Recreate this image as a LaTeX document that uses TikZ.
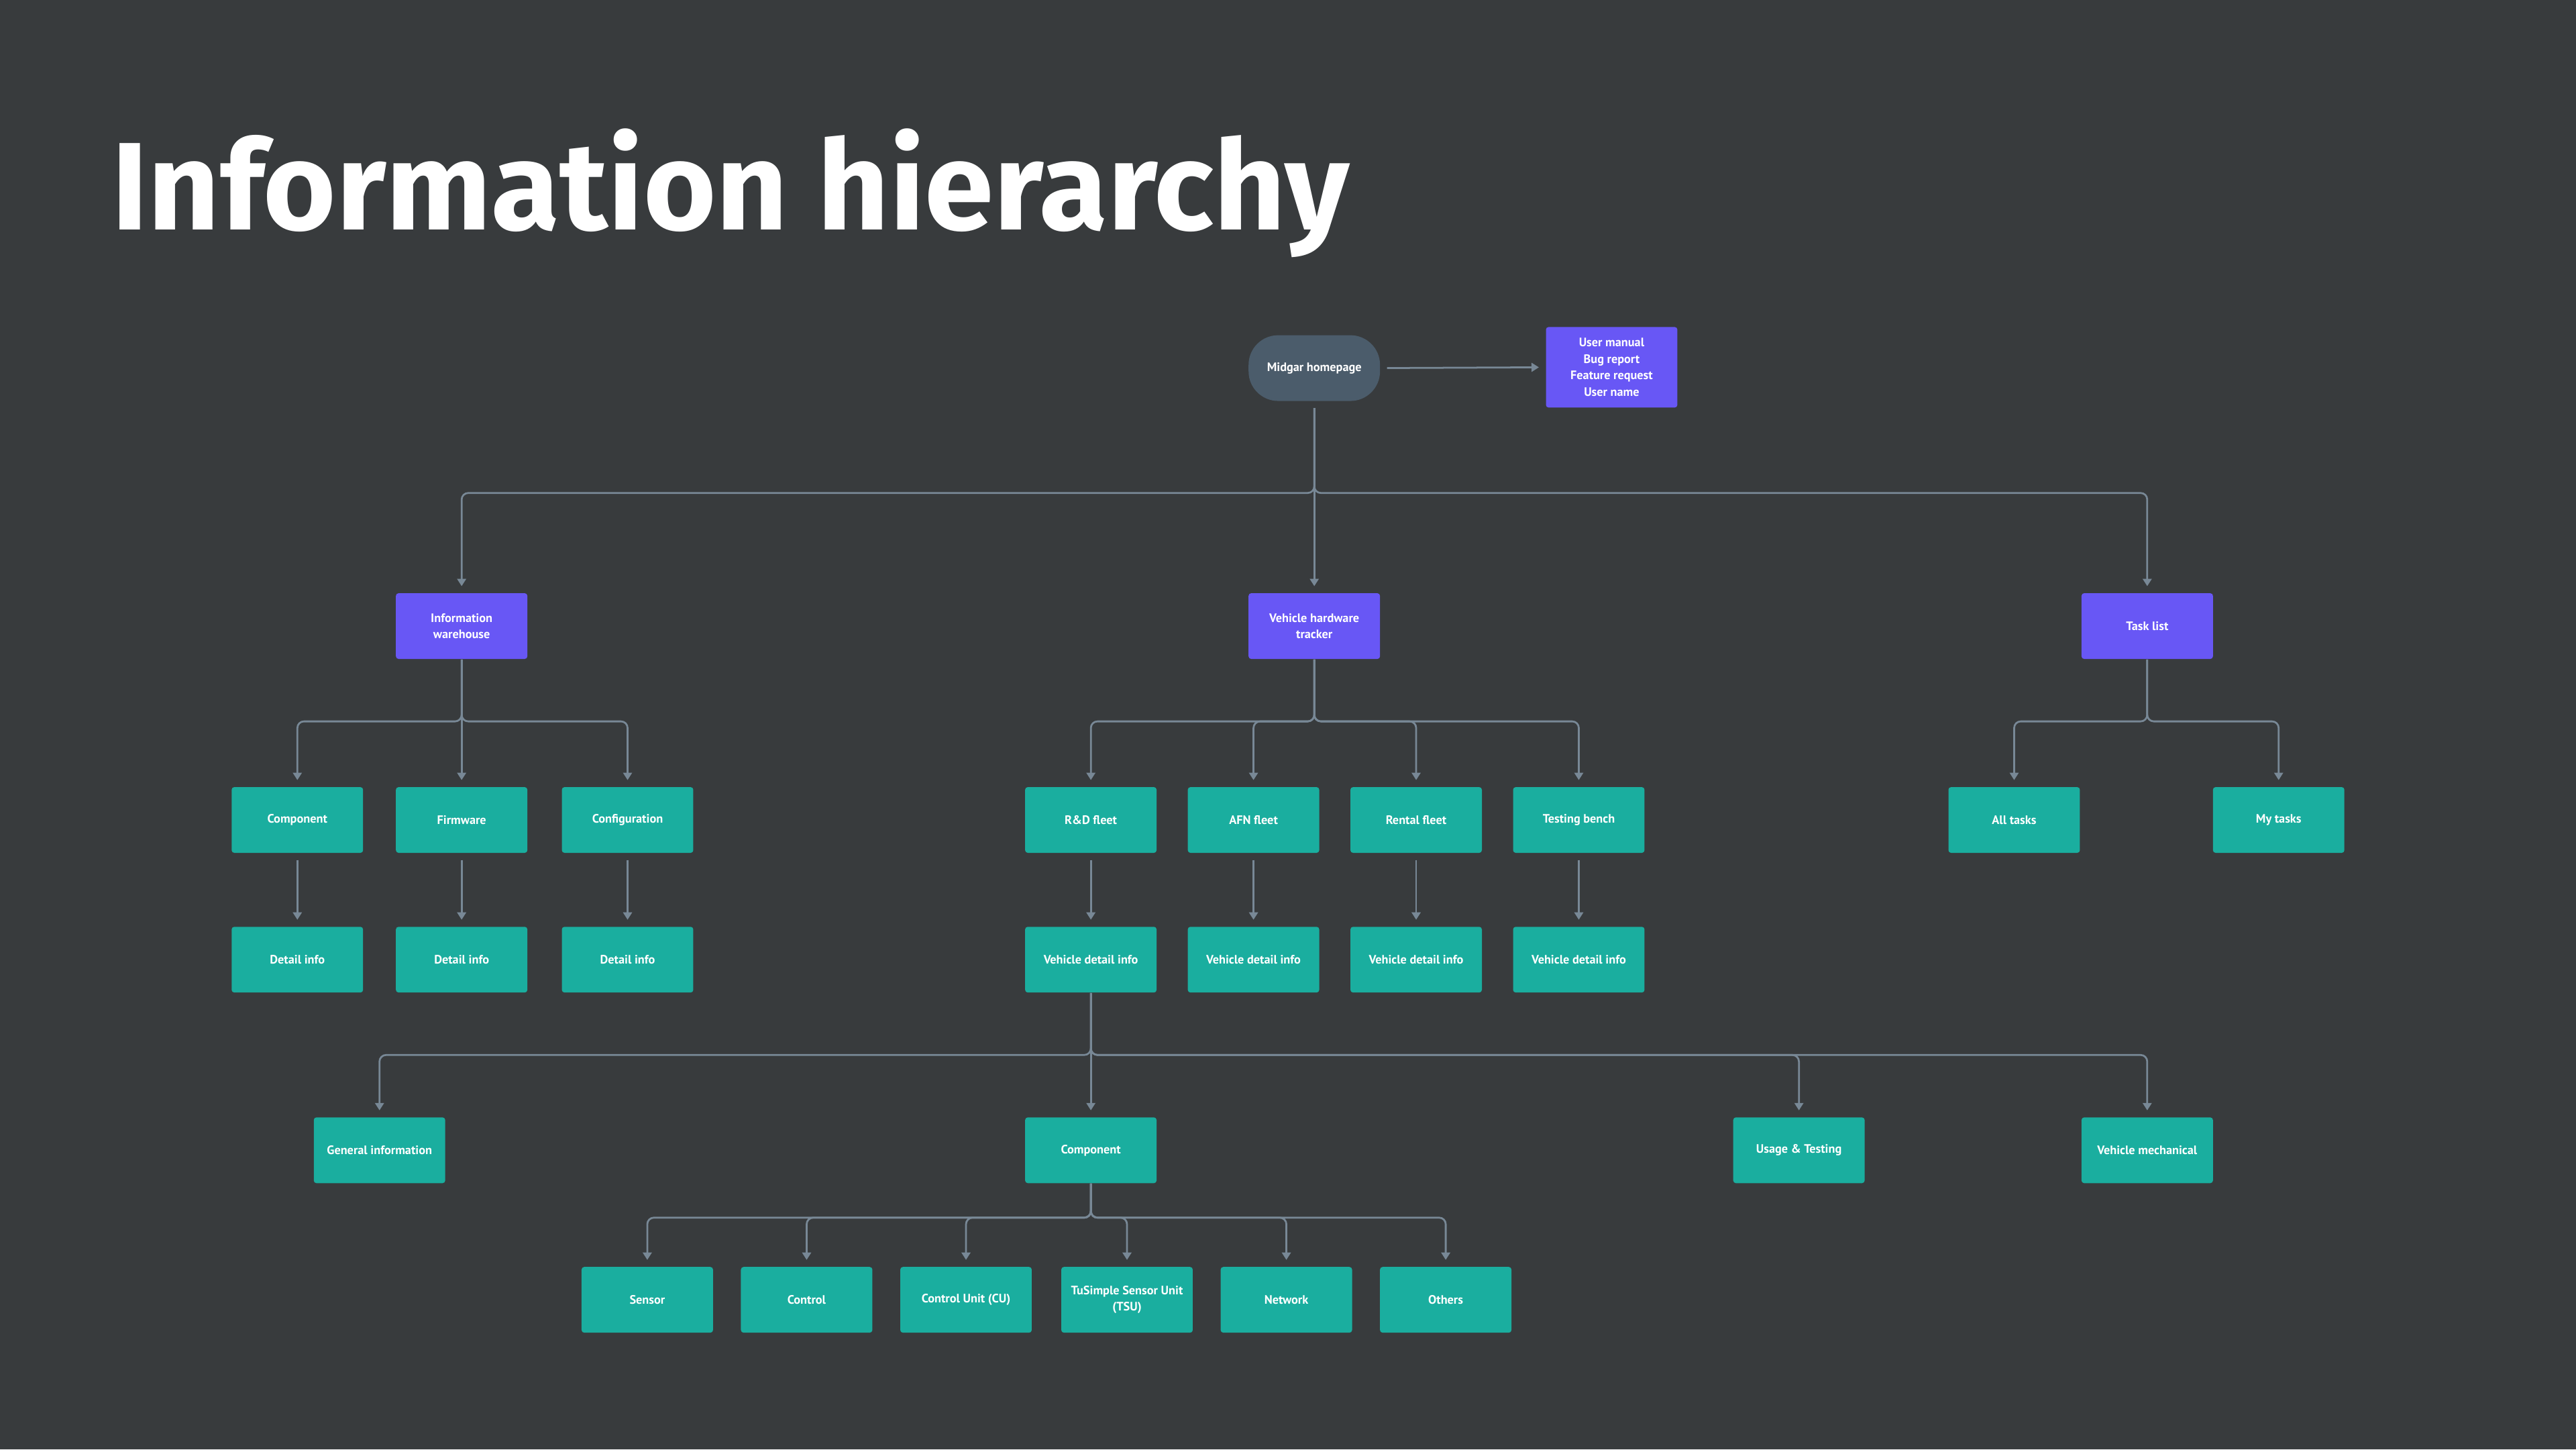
\documentclass[tikz,border=0pt]{standalone}
\usepackage{fontspec}
\setmainfont{PT Sans}
\newfontfamily\titlefont{Fira Sans}
\usetikzlibrary{arrows.meta}

\definecolor{bgdark}{HTML}{383B3D}
\definecolor{boxteal}{HTML}{1AAE9F}
\definecolor{boxviolet}{HTML}{6857F5}
\definecolor{homeslate}{HTML}{4B5C6B}
\definecolor{linkgray}{HTML}{788896}

\begin{document}
\begin{tikzpicture}[x=0.25mm, y=-0.25mm,
  leaf/.style={fill=boxteal, rounded corners=0.4mm, minimum width=20mm,
    minimum height=10mm, inner sep=0pt, text=white, align=center,
    font=\fontsize{5.3}{7.1}\selectfont\bfseries},
  hub/.style={leaf, fill=boxviolet},
  home/.style={leaf, fill=homeslate, rounded corners=4.5mm},
  link/.style={draw=linkgray, line width=0.8pt, rounded corners=1mm,
    -{Triangle[width=3.8pt,length=3.2pt]}, shorten >=1mm},
  gap/.style={shorten <=1mm}]

\fill[bgdark] (0,0) rectangle (1568,882);

\node[anchor=base west, text=white, font=\titlefont\fontsize{54}{58}\selectfont\bfseries]
  (title) at (63,140) {Information hierarchy};

% top
\node[home] (home) at (800,224) {Midgar homepage};
\node[hub, minimum height=12.25mm] (extra) at (981,223.5)
  {User manual\\Bug report\\Feature request\\User name};
\draw[link, gap] (home.east) -- (extra.west);

% level 1
\node[hub] (ware) at (281,381) {Information\\warehouse};
\node[hub] (track) at (800,381) {Vehicle hardware\\tracker};
\node[hub] (tasks) at (1307,381) {Task list};

\coordinate (fork1) at (home.south |- 0,300);
\draw[link, gap] (home.south) -- (fork1) -| (ware.north);
\draw[link, gap] (home.south) -- (track.north);
\draw[link, gap] (home.south) -- (fork1) -| (tasks.north);

% level 2
\node[leaf] (comp) at (181,499) {Component};
\node[leaf] (firm) at (281,499) {Firmware};
\node[leaf] (config) at (382,499) {Configuration};
\node[leaf] (rd) at (664,499) {R\&D fleet};
\node[leaf] (afn) at (763,499) {AFN fleet};
\node[leaf] (rental) at (862,499) {Rental fleet};
\node[leaf] (bench) at (961,499) {Testing bench};
\node[leaf] (all) at (1226,499) {All tasks};
\node[leaf] (mine) at (1387,499) {My tasks};

\coordinate (fork2) at (ware.south |- 0,439);
\draw[link] (ware.south) -- (fork2) -| (comp.north);
\draw[link] (ware.south) -- (firm.north);
\draw[link] (ware.south) -- (fork2) -| (config.north);

\coordinate (fork3) at (track.south |- 0,439);
\draw[link] (track.south) -- (fork3) -| (rd.north);
\draw[link] (track.south) -- (fork3) -| (afn.north);
\draw[link] (track.south) -- (fork3) -| (rental.north);
\draw[link] (track.south) -- (fork3) -| (bench.north);

\coordinate (fork4) at (tasks.south |- 0,439);
\draw[link] (tasks.south) -- (fork4) -| (all.north);
\draw[link] (tasks.south) -- (fork4) -| (mine.north);

% level 3
\node[leaf] (compinfo) at (181,584) {Detail info};
\node[leaf] (firminfo) at (281,584) {Detail info};
\node[leaf] (configinfo) at (382,584) {Detail info};
\node[leaf] (rdinfo) at (664,584) {Vehicle detail info};
\node[leaf] (afninfo) at (763,584) {Vehicle detail info};
\node[leaf] (rentalinfo) at (862,584) {Vehicle detail info};
\node[leaf] (benchinfo) at (961,584) {Vehicle detail info};

\draw[link, gap] (comp.south) -- (compinfo.north);
\draw[link, gap] (firm.south) -- (firminfo.north);
\draw[link, gap] (config.south) -- (configinfo.north);
\draw[link, gap] (rd.south) -- (rdinfo.north);
\draw[link, gap] (afn.south) -- (afninfo.north);
\draw[link, gap] (rental.south) -- (rentalinfo.north);
\draw[link, gap] (bench.south) -- (benchinfo.north);

% level 4
\node[leaf] (general) at (231,700) {General information};
\node[leaf] (parts) at (664,700) {Component};
\node[leaf] (usage) at (1095,700) {Usage \& Testing};
\node[leaf] (mech) at (1307,700) {Vehicle mechanical};

\coordinate (fork5) at (rdinfo.south |- 0,642);
\draw[link] (rdinfo.south) -- (fork5) -| (general.north);
\draw[link] (rdinfo.south) -- (parts.north);
\draw[link] (rdinfo.south) -- (fork5) -| (usage.north);
\draw[link] (rdinfo.south) -- (fork5) -| (mech.north);

% level 5
\node[leaf] (sensor) at (394,791) {Sensor};
\node[leaf] (control) at (491,791) {Control};
\node[leaf] (cu) at (588,791) {Control Unit (CU)};
\node[leaf] (tsu) at (686,791) {TuSimple Sensor Unit\\(TSU)};
\node[leaf] (network) at (783,791) {Network};
\node[leaf] (others) at (880,791) {Others};

\coordinate (fork6) at (parts.south |- 0,741);
\draw[link] (parts.south) -- (fork6) -| (sensor.north);
\draw[link] (parts.south) -- (fork6) -| (control.north);
\draw[link] (parts.south) -- (fork6) -| (cu.north);
\draw[link] (parts.south) -- (fork6) -| (tsu.north);
\draw[link] (parts.south) -- (fork6) -| (network.north);
\draw[link] (parts.south) -- (fork6) -| (others.north);

\end{tikzpicture}
\end{document}
